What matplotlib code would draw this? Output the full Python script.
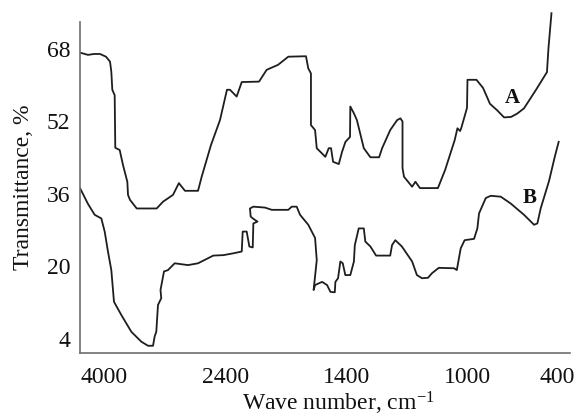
import numpy as np
import matplotlib
matplotlib.use("Agg")
import matplotlib.pyplot as plt

# 数据: 波数 (cm-1) 和 透过率 (%)
wn_a = [4315, 4210, 4131, 4052, 3974, 3921, 3904, 3891, 3860, 3852, 3794, 3751, 3694, 3685,
        3659, 3571, 3309, 3226, 3095, 3018, 2938, 2767, 2719, 2597, 2479, 2392, 2367, 2312,
        2270, 2127, 2064, 1970, 1885, 1739, 1720, 1698, 1698, 1664, 1650, 1579, 1551, 1532,
        1515, 1468, 1441, 1413, 1390, 1389, 1377, 1367, 1344, 1322, 1293, 1283, 1256, 1233,
        1222, 1215, 1215, 1210, 1183, 1172, 1157, 1097, 1073, 1041, 1032, 1023, 1019, 1000,
        997, 937, 893, 847, 800, 753, 707, 667, 620, 540, 467, 457, 437]
t_a = [67.2, 66.7, 66.9, 66.9, 66.3, 65.2, 63.0, 59.0, 57.8, 46.2, 45.7, 42.4, 38.7, 35.8,
       34.7, 32.8, 32.8, 34.3, 35.8, 38.4, 36.7, 36.7, 39.8, 46.8, 52.3, 59.0, 59.0, 57.5,
       60.7, 60.8, 63.4, 64.5, 66.3, 66.4, 63.7, 62.6, 51.2, 50.1, 46.1, 44.2, 46.1, 46.1,
       43.1, 42.6, 45.3, 47.5, 48.6, 55.3, 53.8, 52.3, 46.1, 44.1, 44.1, 46.1, 50.1, 52.3,
       52.7, 52.0, 41.7, 39.8, 37.6, 38.7, 37.3, 37.3, 41.3, 47.9, 50.5, 49.9, 50.6, 55.0,
       61.2, 61.2, 59.4, 55.9, 54.5, 52.9, 53.0, 53.7, 54.9, 59.0, 62.9, 68.2, 75.9]

wn_b = [4315, 4210, 4122, 4035, 3991, 3948, 3904, 3869, 3773, 3642, 3511, 3423, 3357, 3335,
        3314, 3292, 3249, 3259, 3239, 3213, 3161, 3073, 2898, 2767, 2567, 2435, 2340, 2270,
        2262, 2229, 2207, 2179, 2174, 2140, 2173, 2196, 2202, 2174, 2078, 2022, 1885, 1857,
        1816, 1788, 1720, 1664, 1650, 1676, 1664, 1606, 1565, 1537, 1501, 1496, 1474, 1455,
        1435, 1414, 1389, 1377, 1374, 1361, 1344, 1339, 1322, 1303, 1256, 1250, 1239, 1217,
        1183, 1167, 1150, 1130, 1117, 1094, 1043, 1034, 1021, 1008, 953, 931, 920, 875,
        842, 775, 709, 620, 553, 531, 509, 475, 453, 415, 389]
t_b = [37.3, 33.8, 31.4, 30.6, 27.7, 23.3, 19.2, 12.2, 9.3, 5.6, 3.4, 2.5, 2.5, 4.6,
       5.6, 11.5, 13.0, 14.8, 16.6, 18.9, 19.2, 20.7, 20.3, 20.7, 22.4, 22.5, 22.9, 23.3,
       27.7, 27.7, 24.4, 24.2, 29.5, 29.9, 30.5, 31.0, 32.8, 33.2, 33.0, 32.5, 32.5, 33.2,
       33.2, 31.4, 29.2, 26.3, 21.4, 14.8, 15.9, 16.6, 15.9, 14.4, 14.3, 16.6, 17.4, 21.1,
       20.7, 18.1, 18.1, 21.1, 24.7, 28.4, 28.4, 25.5, 24.4, 22.4, 22.4, 24.7, 25.8, 24.4,
       21.1, 18.1, 17.4, 17.5, 18.5, 19.7, 19.6, 19.2, 24.0, 25.8, 26.1, 28.4, 31.7, 35.1,
       35.6, 35.4, 33.9, 31.4, 29.2, 29.5, 32.8, 36.5, 38.9, 44.2, 47.5]

x_ticks = [4000, 2400, 1400, 1000, 400]
y_ticks = [4, 20, 36, 52, 68]

# 横轴刻度间距不均匀，用分段线性的尺度
scale_wn = [313, 400, 1000, 1400, 2400, 4000, 4315]
scale_pos = [0, 13, 103, 223, 344, 466, 490]


def fwd(x):
    return np.interp(x, scale_wn, scale_pos)


def inv(p):
    return np.interp(p, scale_pos, scale_wn)


plt.rcParams['font.family'] = ['Liberation Serif', 'DejaVu Serif']
plt.rcParams['mathtext.default'] = 'regular'

fig = plt.figure(figsize=(5.78, 4.16), dpi=100)
ax = fig.add_axes([0.1384, 0.1522, 0.8478, 0.8286])

ax.plot(wn_a, t_a, color='#1e1e1e', lw=1.3)
ax.plot(wn_b, t_b, color='#1e1e1e', lw=1.3)

ax.set_xscale('function', functions=(fwd, inv))
ax.set_xlim(4315, 313)
ax.set_ylim(0.97, 77.05)
ax.set_xticks(x_ticks)
ax.set_xticklabels([str(v) for v in x_ticks])
ax.set_yticks(y_ticks)
ax.set_yticklabels([str(v) for v in y_ticks])
ax.minorticks_off()

ax.tick_params(axis='x', length=0, pad=10, labelsize=17, labelcolor='#111111')
ax.tick_params(axis='y', length=0, pad=7, labelsize=17, labelcolor='#111111')

for s in ['top', 'right']:
    ax.spines[s].set_visible(False)
for s in ['left', 'bottom']:
    ax.spines[s].set_color('#6e6e6e')
    ax.spines[s].set_linewidth(1.2)
ax.spines['left'].set_bounds(0.97, 73.96)

ax.set_xlabel('Wave number, cm$^{-1}$', fontsize=17, color='#111111')
ax.set_ylabel('Transmittance, %', fontsize=17, color='#111111')
ax.xaxis.set_label_coords(0.527, -0.108)
ax.yaxis.set_label_coords(-0.094, 0.481)

ax.text(700, 57.2, 'A', fontsize=15, fontweight='bold', ha='center', va='center', color='#111111')
ax.text(580, 35.1, 'B', fontsize=15, fontweight='bold', ha='center', va='center', color='#111111')

fig.savefig('out.png', dpi=100)
